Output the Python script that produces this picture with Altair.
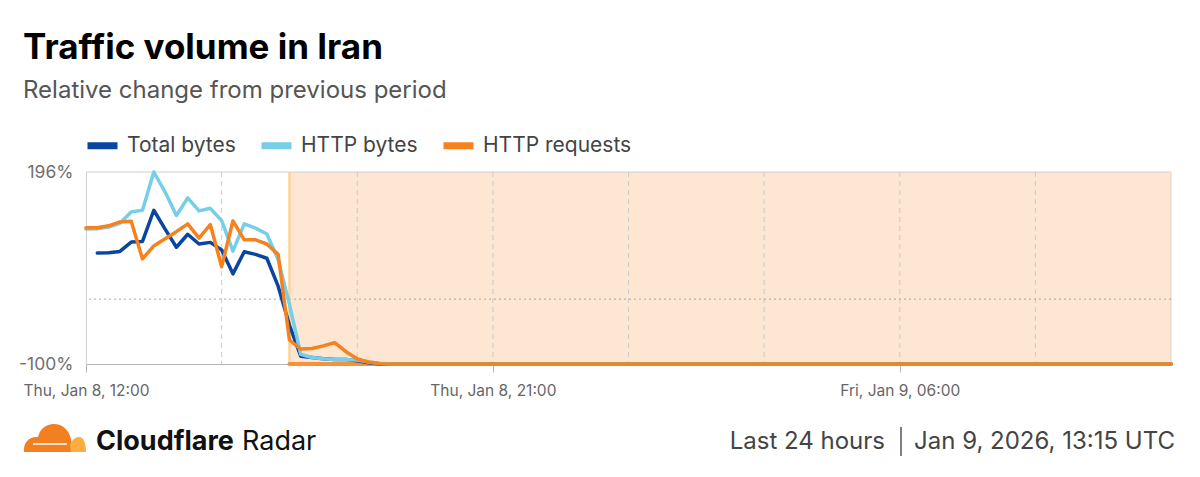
import altair as alt
import pandas as pd

# ---------------- data ----------------
series_names = ["Total bytes", "HTTP bytes", "HTTP requests"]
series_colors = ["#0A46A0", "#76CEE8", "#F6821F"]

# 15-minute points, Thu Jan 8 12:00 UTC -> Fri Jan 9 12:00 UTC (97 points)
total_bytes = [
    None, 71, 71.5, 73.5, 88, 89, 137, 108, 80, 100,
    85, 87.5, 76, 39, 73, 69, 63, 20, -40, -88,
    -90, -92, -93, -93, -95, -98, -100,
    -100, -100, -100, -100, -100, -100, -100, -100, -100, -100,
    -100, -100, -100, -100, -100, -100, -100, -100, -100, -100,
    -100, -100, -100, -100, -100, -100, -100, -100, -100, -100,
    -100, -100, -100, -100, -100, -100, -100, -100, -100, -100,
    -100, -100, -100, -100, -100, -100, -100, -100, -100, -100,
    -100, -100, -100, -100, -100, -100, -100, -100, -100, -100,
    -100, -100, -100, -100, -100, -100, -100, -100, -100, -100,
]
http_bytes = [
    108, 108.5, 111, 117, 134.5, 137, 196, 165, 129, 156,
    136, 140, 121, 74, 116, 109.5, 100.5, 61, -8, -85,
    -90, -92, -93, -93.5, -94, -97, -99,
    -100, -100, -100, -100, -100, -100, -100, -100, -100, -100,
    -100, -100, -100, -100, -100, -100, -100, -100, -100, -100,
    -100, -100, -100, -100, -100, -100, -100, -100, -100, -100,
    -100, -100, -100, -100, -100, -100, -100, -100, -100, -100,
    -100, -100, -100, -100, -100, -100, -100, -100, -100, -100,
    -100, -100, -100, -100, -100, -100, -100, -100, -100, -100,
    -100, -100, -100, -100, -100, -100, -100, -100, -100, -100,
]
http_requests = [
    110, 110, 113, 119, 120, 62, 82, 93, 104, 116,
    94, 115, 50, 120.5, 91.5, 91.5, 85, 69, -63, -77,
    -76, -72, -67, -81, -92, -97, -99.5,
    -100, -100, -100, -100, -100, -100, -100, -100, -100, -100,
    -100, -100, -100, -100, -100, -100, -100, -100, -100, -100,
    -100, -100, -100, -100, -100, -100, -100, -100, -100, -100,
    -100, -100, -100, -100, -100, -100, -100, -100, -100, -100,
    -100, -100, -100, -100, -100, -100, -100, -100, -100, -100,
    -100, -100, -100, -100, -100, -100, -100, -100, -100, -100,
    -100, -100, -100, -100, -100, -100, -100, -100, -100, -100,
]

times = pd.date_range("2026-01-08 12:00", periods=97, freq="15min")
time_str = [t.strftime("%Y-%m-%dT%H:%M:%SZ") for t in times]

grid_times = ["2026-01-08T15:00:00Z", "2026-01-08T18:00:00Z", "2026-01-08T21:00:00Z",
              "2026-01-09T00:00:00Z", "2026-01-09T03:00:00Z", "2026-01-09T06:00:00Z",
              "2026-01-09T09:00:00Z"]
outage_start = ["2026-01-08T16:30:00Z"]
outage_end = ["2026-01-09T12:00:00Z"]
y_ticks = [-100, 196]

title_text = "Traffic volume in Iran"
subtitle_text = "Relative change from previous period"
footer_period = "Last 24 hours"
footer_date = "Jan 9, 2026, 13:15 UTC"

# ---------------- tables ----------------
rows = []
for name, vals in zip(series_names, [total_bytes, http_bytes, http_requests]):
    for t, v in zip(time_str, vals):
        rows.append({"time": t, "series": name, "value": v})
df = pd.DataFrame(rows)

x_scale = alt.Scale(type="utc", nice=False,
                    domain=[alt.DateTime(year=2026, month=1, date=8, hours=12, utc=True),
                            alt.DateTime(year=2026, month=1, date=9, hours=12, utc=True)])
y_scale = alt.Scale(domain=[-100, 196], nice=False, zero=False)

x_axis = alt.Axis(
    values=[alt.DateTime(year=2026, month=1, date=8, hours=12, utc=True),
            alt.DateTime(year=2026, month=1, date=8, hours=21, utc=True),
            alt.DateTime(year=2026, month=1, date=9, hours=6, utc=True)],
    format="%a, %b %-d, %H:%M", title=None, grid=False,
    labelFont="Inter", labelFontSize=15.5, labelColor="#666666",
    tickSize=8, tickColor="#b5b5b5", domainColor="#b5b5b5",
    labelPadding=11, labelFlush=False,
)
y_axis = alt.Axis(
    values=y_ticks, labelExpr="datum.value + '%'", title=None, grid=False,
    ticks=False, domain=True, domainColor="#d0d0d0",
    labelFont="Inter", labelFontSize=17.5, labelColor="#707070",
    labelPadding=13, labelFlush=False,
)

color_enc = alt.Color(
    "series:N",
    scale=alt.Scale(domain=series_names, range=series_colors),
    legend=alt.Legend(orient="none", legendX=-2, legendY=-45, direction="horizontal",
                      title=None, symbolType="stroke", symbolStrokeWidth=7,
                      symbolSize=900, labelFont="Inter", labelFontSize=21,
                      labelColor="#444444", labelOffset=6, columnPadding=11),
)

X = lambda f: alt.X(f, scale=x_scale, axis=x_axis)
Y = lambda f: alt.Y(f, scale=y_scale, axis=y_axis)

# shaded outage window
outage_df = pd.DataFrame({"s": outage_start, "e": outage_end, "b": [y_ticks[0]]})
shade = alt.Chart(outage_df).mark_rect(
    color="#F6821F", opacity=0.2
).encode(x=X("s:T"), x2="e:T")

shade_edge = alt.Chart(outage_df).mark_rule(
    color="#FCD49A", strokeWidth=2.5
).encode(x=X("s:T"))

shade_right = alt.Chart(outage_df).mark_rule(
    color="#dcd2c8", strokeWidth=1
).encode(x=X("e:T"))

shade_bar = alt.Chart(outage_df).mark_rule(
    color="#F7923A", strokeWidth=4, strokeCap="round"
).encode(x=X("s:T"), x2="e:T", y=Y("b:Q"))

vgrid = alt.Chart(pd.DataFrame({"t": grid_times})).mark_rule(
    color="#cccccc", strokeWidth=1, strokeDash=[5, 4]
).encode(x=X("t:T"))

top_line = alt.Chart(pd.DataFrame({"v": [y_ticks[1]]})).mark_rule(
    color="#d0d0d0", strokeWidth=1
).encode(y=Y("v:Q"))

zero_line = alt.Chart(pd.DataFrame({"v": [0]})).mark_rule(
    color="#a8a8a8", strokeWidth=1, strokeDash=[2, 3]
).encode(y=Y("v:Q"))

line_layers = []
for name in series_names:
    line_layers.append(
        alt.Chart(df).transform_filter(alt.datum.series == name).mark_line(
            strokeWidth=3.5, strokeCap="round", strokeJoin="round"
        ).encode(
            x=X("time:T"),
            y=Y("value:Q"),
            color=color_enc,
        )
    )


def text_layer(txt, x, y, size, color, weight="normal", align="left"):
    return alt.Chart(pd.DataFrame({"t": [txt]})).mark_text(
        align=align, baseline="alphabetic", fontSize=size, fontWeight=weight,
        color=color, font="Inter"
    ).encode(text="t:N", x=alt.value(x), y=alt.value(y))


title = text_layer(title_text, -63, -113, 35, "#000000", "bold")
subtitle = text_layer(subtitle_text, -63, -74, 24, "#555555")
brand1 = text_layer("Cloudflare", 10, 278, 27, "#111111", "bold")
brand2 = text_layer("Radar", 156, 278, 27, "#111111")
foot1 = text_layer(footer_period, 799, 277, 24, "#444444", align="right")
foot2 = text_layer(footer_date, 1089, 277, 24, "#444444", align="right")

sep = alt.Chart(pd.DataFrame({"a": [0]})).mark_rule(color="#555555", strokeWidth=1.5).encode(
    x=alt.value(815), y=alt.value(255), y2=alt.value(284)
)

# Cloudflare cloud logo (approximate shape)
cloud_main = ("M-0.953,0.422 C-0.984,0.141 -0.797,-0.078 -0.516,-0.047 "
              "C-0.453,-0.297 -0.266,-0.453 -0.016,-0.453 "
              "C0.234,-0.453 0.453,-0.266 0.516,0.016 L0.578,0.422 Z")
cloud_small = ("M0.516,0.422 L0.484,0.203 C0.547,0.047 0.641,-0.047 0.766,-0.047 "
               "C0.891,-0.047 0.984,0.109 0.984,0.422 Z")
logo1 = alt.Chart(pd.DataFrame({"a": [0]})).mark_point(
    shape=cloud_main, filled=True, fill="#F38020", size=4096, opacity=1, strokeWidth=0
).encode(x=alt.value(-31.5), y=alt.value(266.5))
logo2 = alt.Chart(pd.DataFrame({"a": [0]})).mark_point(
    shape=cloud_small, filled=True, fill="#FBAD41", size=4096, opacity=1, strokeWidth=0
).encode(x=alt.value(-31.5), y=alt.value(266.5))
logo_streak = alt.Chart(pd.DataFrame({"a": [0]})).mark_rule(color="#ffffff", strokeWidth=1.5).encode(
    x=alt.value(-53), x2=alt.value(-19), y=alt.value(272)
)

chart = alt.layer(
    shade, vgrid, shade_edge, shade_right, top_line, zero_line, shade_bar,
    *line_layers,
    title, subtitle, logo1, logo2, logo_streak, brand1, brand2, foot1, sep, foot2,
).properties(
    width=1085, height=192,
    autosize=alt.AutoSizeParams(type="none"),
    padding={"left": 78, "top": 164, "right": 19, "bottom": 100},
).configure(font="Inter").configure_view(strokeWidth=0)

chart.save("out.html", embed_options={"renderer": "svg", "actions": False})
